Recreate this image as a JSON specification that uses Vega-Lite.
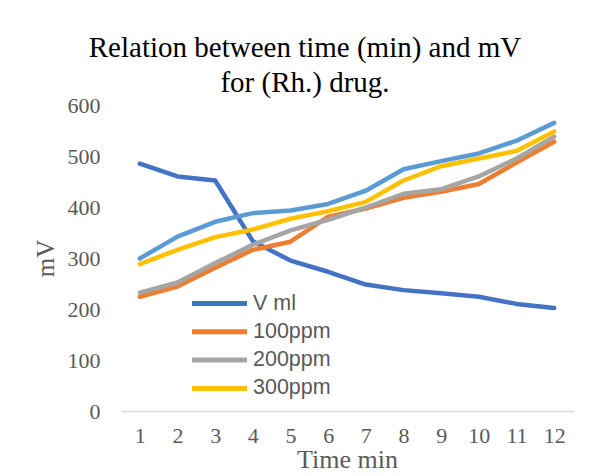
{
  "$schema": "https://vega.github.io/schema/vega-lite/v6.json",
  "autosize": {"type": "none"},
  "width": 452,
  "height": 306,
  "padding": {"left": 121, "top": 105, "right": 17, "bottom": 65},
  "background": "white",
  "title": {
    "text": ["Relation between time (min) and mV", "for (Rh.) drug."],
    "font": "Liberation Serif",
    "fontSize": 29,
    "fontWeight": "normal",
    "color": "#000000",
    "lineHeight": 35,
    "anchor": "middle",
    "frame": "group",
    "dx": -42,
    "offset": -4
  },
  "config": {
    "view": {"stroke": null},
    "axis": {"labelFont": "Liberation Serif", "titleFont": "Liberation Serif", "labelColor": "#595959", "titleColor": "#595959", "titleFontWeight": "normal"}
  },
  "data": {
    "values": [
      {"t": 1, "s": "V ml", "v": 485}, {"t": 2, "s": "V ml", "v": 460}, {"t": 3, "s": "V ml", "v": 452}, {"t": 4, "s": "V ml", "v": 333}, {"t": 5, "s": "V ml", "v": 295}, {"t": 6, "s": "V ml", "v": 273}, {"t": 7, "s": "V ml", "v": 248}, {"t": 8, "s": "V ml", "v": 237}, {"t": 9, "s": "V ml", "v": 231}, {"t": 10, "s": "V ml", "v": 224}, {"t": 11, "s": "V ml", "v": 210}, {"t": 12, "s": "V ml", "v": 202},
      {"t": 1, "s": "100ppm", "v": 224}, {"t": 2, "s": "100ppm", "v": 244}, {"t": 3, "s": "100ppm", "v": 281}, {"t": 4, "s": "100ppm", "v": 316}, {"t": 5, "s": "100ppm", "v": 332}, {"t": 6, "s": "100ppm", "v": 381}, {"t": 7, "s": "100ppm", "v": 397}, {"t": 8, "s": "100ppm", "v": 418}, {"t": 9, "s": "100ppm", "v": 430}, {"t": 10, "s": "100ppm", "v": 445}, {"t": 11, "s": "100ppm", "v": 487}, {"t": 12, "s": "100ppm", "v": 528},
      {"t": 1, "s": "200ppm", "v": 232}, {"t": 2, "s": "200ppm", "v": 252}, {"t": 3, "s": "200ppm", "v": 290}, {"t": 4, "s": "200ppm", "v": 326}, {"t": 5, "s": "200ppm", "v": 354}, {"t": 6, "s": "200ppm", "v": 375}, {"t": 7, "s": "200ppm", "v": 399}, {"t": 8, "s": "200ppm", "v": 426}, {"t": 9, "s": "200ppm", "v": 435}, {"t": 10, "s": "200ppm", "v": 460}, {"t": 11, "s": "200ppm", "v": 495}, {"t": 12, "s": "200ppm", "v": 538},
      {"t": 1, "s": "300ppm", "v": 288}, {"t": 2, "s": "300ppm", "v": 316}, {"t": 3, "s": "300ppm", "v": 341}, {"t": 4, "s": "300ppm", "v": 356}, {"t": 5, "s": "300ppm", "v": 377}, {"t": 6, "s": "300ppm", "v": 392}, {"t": 7, "s": "300ppm", "v": 410}, {"t": 8, "s": "300ppm", "v": 452}, {"t": 9, "s": "300ppm", "v": 480}, {"t": 10, "s": "300ppm", "v": 495}, {"t": 11, "s": "300ppm", "v": 510}, {"t": 12, "s": "300ppm", "v": 548},
      {"t": 1, "s": "400ppm", "v": 299}, {"t": 2, "s": "400ppm", "v": 342}, {"t": 3, "s": "400ppm", "v": 371}, {"t": 4, "s": "400ppm", "v": 388}, {"t": 5, "s": "400ppm", "v": 393}, {"t": 6, "s": "400ppm", "v": 406}, {"t": 7, "s": "400ppm", "v": 432}, {"t": 8, "s": "400ppm", "v": 474}, {"t": 9, "s": "400ppm", "v": 490}, {"t": 10, "s": "400ppm", "v": 505}, {"t": 11, "s": "400ppm", "v": 530}, {"t": 12, "s": "400ppm", "v": 565}
    ]
  },
  "mark": {"type": "line", "strokeWidth": 4.5, "strokeCap": "round", "strokeJoin": "round"},
  "encoding": {
    "x": {
      "field": "t", "type": "ordinal", "title": "Time min",
      "scale": {"type": "point", "padding": 0.5},
      "axis": {"labelAngle": 0, "labelFontSize": 22, "titleFontSize": 26, "ticks": false, "domainColor": "#D9D9D9", "domainWidth": 1.5, "labelPadding": 14, "titlePadding": 0, "grid": false}
    },
    "y": {
      "field": "v", "type": "quantitative", "title": "mV",
      "scale": {"domain": [0, 600], "nice": false},
      "axis": {"values": [0, 100, 200, 300, 400, 500, 600], "labelFontSize": 22, "titleFontSize": 25, "ticks": false, "domain": false, "grid": false, "labelPadding": 21, "titlePadding": 9}
    },
    "color": {
      "field": "s", "type": "nominal",
      "scale": {"domain": ["V ml", "100ppm", "200ppm", "300ppm", "400ppm"], "range": ["#4472C4", "#ED7D31", "#A5A5A5", "#FFC000", "#5B9BD5"]},
      "legend": {
        "values": ["V ml", "100ppm", "200ppm", "300ppm"],
        "title": null,
        "orient": "none",
        "legendX": 85,
        "legendY": 185,
        "symbolType": "M-2.5,0H2.5",
        "symbolSize": 484,
        "symbolStrokeWidth": 5,
        "labelFont": "Liberation Sans",
        "labelFontSize": 21.5,
        "labelColor": "#595959",
        "labelOffset": 20,
        "rowPadding": 4.3
      }
    },
    "order": {"field": "s"}
  }
}
